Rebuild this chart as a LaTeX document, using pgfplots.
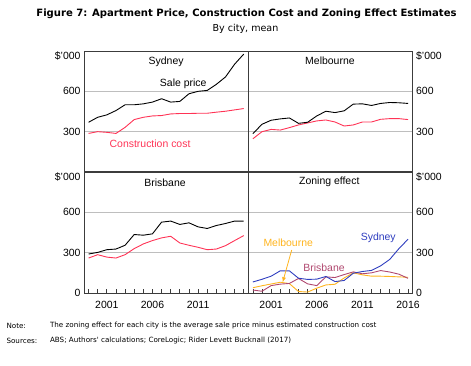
\documentclass[border=0pt]{standalone}
\usepackage{fontspec}
\setmainfont{Liberation Sans}
\newfontfamily\tahomalike{DejaVu Sans}
\usepackage{pgfplots}
\usepackage{pgfplotstable}
\pgfplotsset{compat=1.18}

\definecolor{framec}{HTML}{3C3C3C}
\definecolor{gridc}{HTML}{BEBEBE}
\definecolor{costred}{HTML}{FF3355}
\definecolor{sydblue}{HTML}{2E3DBF}
\definecolor{melorange}{HTML}{FFB41E}
\definecolor{brismaroon}{HTML}{B0486F}

\pgfplotstableread{
year price cost zone
1999 370 287 82
2000 407 300 102
2001 425 295 125
2002 457 287 165
2003 500 332 165
2004 500 390 110
2005 507 407 101
2006 520 417 103
2007 545 420 123
2008 520 432 85
2009 525 435 93
2010 582 435 147
2011 600 437 160
2012 607 437 168
2013 652 445 202
2014 707 452 250
2015 802 462 330
2016 877 472 400
}\sydney

\pgfplotstableread{
year price cost zone
1999 285 247 39
2000 355 300 54
2001 385 317 67
2002 395 312 80
2003 402 330 70
2004 362 350 11
2005 370 365 7
2006 417 380 36
2007 452 387 60
2008 442 372 65
2009 455 342 112
2010 505 350 150
2011 507 372 135
2012 495 372 125
2013 510 392 125
2014 517 397 123
2015 515 397 120
2016 510 390 117
}\melbourne

\pgfplotstableread{
year price cost zone
1999 290 260 22
2000 302 285 13
2001 322 267 55
2002 327 260 66
2003 355 285 71
2004 435 330 108
2005 430 365 68
2006 440 390 55
2007 527 410 120
2008 535 422 115
2009 510 372 137
2010 522 355 157
2011 492 340 143
2012 480 322 150
2013 502 327 167
2014 517 352 156
2015 535 390 140
2016 535 427 109
}\brisbane

\tikzset{ann/.style={font=\fontsize{10.5}{12}\selectfont}}

\pgfplotsset{
  panel/.style={
    width=164.3bp, height=121bp, scale only axis,
    xmin=1998.5, xmax=2016.5, ymin=0, ymax=900,
    axis line style={framec, line width=1pt},
    ymajorgrids, grid style={gridc, line width=0.7pt},
    major tick length=0, minor tick length=3.5bp,
    tick align=inside, tick style={framec, line width=0.7pt},
    ticklabel style={font=\fontsize{10.5}{12}\selectfont},
    extra y ticks={865}, extra y tick labels={\$'000},
    extra y tick style={grid=none, major tick length=0},
    clip=false,
  },
  toppanel/.style={panel, xtick=\empty, ytick={300,600}, yticklabels={300,600}},
  botpanel/.style={panel, ytick={0,300,600}, yticklabels={0,300,600},
    minor xtick={1999,...,2016}, xtick pos=bottom,
    xticklabel style={yshift=-5bp}},
  dline/.style={line width=0.9pt, no marks},
}

\begin{document}
\begin{tikzpicture}
\path[use as bounding box] (0,0) rectangle (471bp,366bp);
\node[font=\tahomalike\bfseries\fontsize{10.1}{12}\selectfont] at (246.5bp,352bp) {Figure 7: Apartment Price, Construction Cost and Zoning Effect Estimates};
\node[font=\tahomalike\fontsize{9.6}{12}\selectfont] at (245.5bp,337bp) {By city, mean};

% Sydney
\begin{axis}[toppanel, at={(84bp,194bp)}, anchor=south west, yticklabel pos=left]
\addplot[dline, costred] table[x=year, y=cost] {\sydney};
\addplot[dline, black] table[x=year, y=price] {\sydney};
\node[ann] at (rel axis cs:0.5,0.912) {Sydney};
\node[ann] at (rel axis cs:0.604,0.727) {Sale price};
\node[ann, text=costred] at (rel axis cs:0.402,0.231) {Construction cost};
\end{axis}

% Melbourne
\begin{axis}[toppanel, at={(248.3bp,194bp)}, anchor=south west, yticklabel pos=right]
\addplot[dline, costred] table[x=year, y=cost] {\melbourne};
\addplot[dline, black] table[x=year, y=price] {\melbourne};
\node[ann] at (rel axis cs:0.497,0.917) {Melbourne};
\end{axis}

% Brisbane
\begin{axis}[botpanel, at={(84bp,73bp)}, anchor=south west, yticklabel pos=left,
  xtick={2001,2006,2011}, xticklabels={2001,2006,2011}]
\addplot[dline, costred] table[x=year, y=cost] {\brisbane};
\addplot[dline, black] table[x=year, y=price] {\brisbane};
\node[ann] at (rel axis cs:0.493,0.915) {Brisbane};
\end{axis}

% Zoning effect
\begin{axis}[botpanel, at={(248.3bp,73bp)}, anchor=south west, yticklabel pos=right,
  xtick={2001,2006,2011,2016}, xticklabels={2001,2006,2011,2016}]
\addplot[dline, melorange] table[x=year, y=zone] {\melbourne};
\addplot[dline, brismaroon] table[x=year, y=zone] {\brisbane};
\addplot[dline, sydblue] table[x=year, y=zone] {\sydney};
\node[ann] at (rel axis cs:0.493,0.92) {Zoning effect};
\node[ann, text=melorange] at (rel axis cs:0.243,0.413) {Melbourne};
\node[ann, text=sydblue] at (rel axis cs:0.791,0.46) {Sydney};
\node[ann, text=brismaroon] at (rel axis cs:0.461,0.209) {Brisbane};
\draw[melorange, line width=0.8pt, -latex] (rel axis cs:0.264,0.355) -- (rel axis cs:0.209,0.088);
\end{axis}

\node[anchor=west, font=\tahomalike\fontsize{7.2}{9}\selectfont] at (3bp,40bp) {Note:};
\node[anchor=west, font=\tahomalike\fontsize{7.2}{9}\selectfont] at (46.5bp,40bp) {The zoning effect for each city is the average sale price minus estimated construction cost};
\node[anchor=west, font=\tahomalike\fontsize{7.2}{9}\selectfont] at (3bp,25bp) {Sources:};
\node[anchor=west, font=\tahomalike\fontsize{7.2}{9}\selectfont] at (46.5bp,25bp) {ABS; Authors' calculations; CoreLogic; Rider Levett Bucknall (2017)};
\end{tikzpicture}
\end{document}
